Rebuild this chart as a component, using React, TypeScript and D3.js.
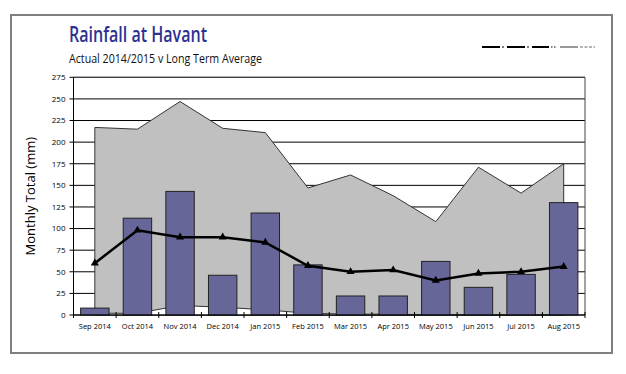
import * as d3 from 'd3';

// Monthly rainfall at Havant, Sep 2014 – Aug 2015 (mm)
const months = [
  'Sep 2014', 'Oct 2014', 'Nov 2014', 'Dec 2014', 'Jan 2015', 'Feb 2015',
  'Mar 2015', 'Apr 2015', 'May 2015', 'Jun 2015', 'Jul 2015', 'Aug 2015'
];
const actual = [8, 112, 143, 46, 118, 58, 22, 22, 62, 32, 47, 130];
const longTermAverage = [60, 98, 90, 90, 84, 57, 50, 52, 40, 48, 50, 56];
const highest = [217, 215, 247, 216, 211, 147, 162, 138, 108, 171, 141, 175];
const lowest = [2, 2, 11, 9, 6, 2, 1, 1, 0, 0, 0, 0];
const yTicks = [0, 25, 50, 75, 100, 125, 150, 175, 200, 225, 250, 275];

const width = 626;
const height = 374;
const plot = { left: 73.5, right: 585, top: 77.3, bottom: 315 };
const font = 'Open Sans, Noto Sans, sans-serif';

export default function App() {
  const x = d3
    .scaleBand<string>()
    .domain(months)
    .range([plot.left, plot.right])
    .paddingInner(0.5 / 1.5)
    .paddingOuter(0.5 / 3);
  const xCat = d3.scaleBand<string>().domain(months).range([plot.left, plot.right]);
  const cx = (m: string) => (xCat(m) as number) + xCat.bandwidth() / 2;
  const y = d3.scaleLinear().domain([0, 275]).range([plot.bottom, plot.top]);

  const rangeArea = (vals: number[]) =>
    d3
      .area<number>()
      .x((_, i) => cx(months[i]))
      .y0(y(0))
      .y1((d) => y(d))(vals) as string;

  const avgLine = d3
    .line<number>()
    .x((_, i) => cx(months[i]))
    .y((d) => y(d))(longTermAverage) as string;

  const tri = d3.symbol().type(d3.symbolTriangle).size(28)() as string;

  const boundaries = d3.range(months.length + 1).map((i) => plot.left + i * xCat.bandwidth());

  return (
    <div style={{ position: 'fixed', left: 0, top: 0 }}>
      <svg width={width} height={height} style={{ display: 'block', background: '#fff' }}>
        <rect x={11} y={15} width={601} height={338} fill="#fff" stroke="#7f7f7f" strokeWidth={2} />

        <text x={69} y={42} fill="#2e3192" fontFamily={font} fontWeight={600} fontSize={22} textLength={138} lengthAdjust="spacingAndGlyphs">
          Rainfall at Havant
        </text>
        <text x={69} y={63} fill="#111" fontFamily={font} fontSize={12} textLength={193} lengthAdjust="spacingAndGlyphs">
          Actual 2014/2015 v Long Term Average
        </text>

        {/* legend strip */}
        <g stroke="#000" strokeWidth={2}>
          <line x1={482} x2={500} y1={47} y2={47} />
          <line x1={502} x2={504} y1={47} y2={47} strokeWidth={1} />
          <line x1={507} x2={525} y1={47} y2={47} />
          <line x1={527} x2={529} y1={47} y2={47} strokeWidth={1} />
          <line x1={532} x2={549} y1={47} y2={47} />
          <line x1={551} x2={556} y1={47} y2={47} strokeWidth={1} strokeDasharray="1.5 1.5" />
          <line x1={560} x2={578} y1={47} y2={47} stroke="#999" />
          <line x1={580} x2={595} y1={47} y2={47} stroke="#666" strokeWidth={1} strokeDasharray="3 1.5" />
        </g>

        {/* gridlines */}
        <g>
          {yTicks.map((t) => (
            <line key={t} x1={plot.left} x2={plot.right} y1={y(t)} y2={y(t)} stroke="#000" strokeWidth={1} />
          ))}
        </g>

        {/* highest / lowest range */}
        <path d={rangeArea(highest)} fill="#c0c0c0" stroke="#333" strokeWidth={1} />
        <path d={rangeArea(lowest)} fill="#fff" stroke="#333" strokeWidth={1} />

        {/* actual monthly totals */}
        <g>
          {actual.map((v, i) => (
            <rect
              key={months[i]}
              x={x(months[i])}
              y={y(v)}
              width={x.bandwidth()}
              height={y(0) - y(v)}
              fill="#666699"
              stroke="#222"
              strokeWidth={1}
            />
          ))}
        </g>

        {/* long term average */}
        <path d={avgLine} fill="none" stroke="#000" strokeWidth={2.5} />
        <g>
          {longTermAverage.map((v, i) => (
            <path key={i} d={tri} transform={`translate(${cx(months[i])},${y(v)})`} fill="#000" />
          ))}
        </g>

        {/* plot frame and axes */}
        <line x1={plot.left} x2={plot.right} y1={plot.top} y2={plot.top} stroke="#444" />
        <line x1={plot.right} x2={plot.right} y1={plot.top} y2={plot.bottom} stroke="#444" />
        <line x1={plot.left} x2={plot.left} y1={plot.top} y2={plot.bottom} stroke="#000" />
        <line x1={plot.left} x2={plot.right} y1={plot.bottom} y2={plot.bottom} stroke="#000" />

        <g fontFamily={font} fontSize={8} fill="#000">
          {yTicks.map((t) => (
            <g key={t}>
              <line x1={plot.left - 4} x2={plot.left} y1={y(t)} y2={y(t)} stroke="#000" />
              <text x={plot.left - 8} y={y(t)} dy="0.35em" textAnchor="end">
                {t}
              </text>
            </g>
          ))}
          {boundaries.map((b, i) => (
            <line key={i} x1={b} x2={b} y1={plot.bottom - 3} y2={plot.bottom + 3} stroke="#000" />
          ))}
          {months.map((m) => (
            <text key={m} x={cx(m)} y={329} textAnchor="middle" fontSize={7.5}>
              {m}
            </text>
          ))}
        </g>

        <text
          transform={`translate(35,${(plot.top + plot.bottom) / 2}) rotate(-90)`}
          textAnchor="middle"
          fontFamily={font}
          fontSize={13}
          fill="#000"
        >
          Monthly Total (mm)
        </text>
      </svg>
    </div>
  );
}
